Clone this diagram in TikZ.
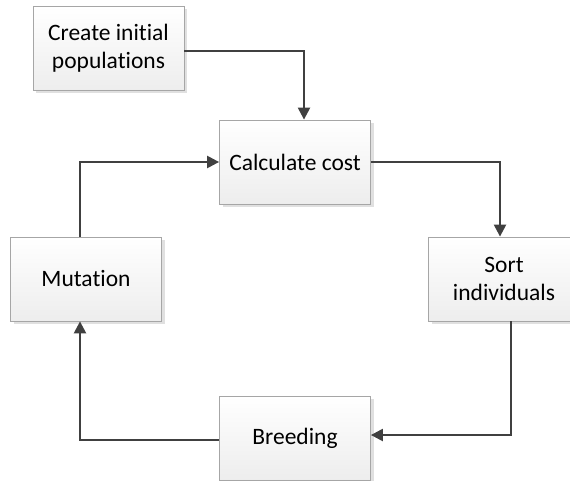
\documentclass[tikz,border=0pt]{standalone}
\usepackage{fontspec}
\setmainfont[RawFeature={-liga}]{Carlito}
\usetikzlibrary{arrows.meta,shadows}
\definecolor{edgegray}{HTML}{A6A6A6}
\definecolor{linegray}{HTML}{404040}
\begin{document}
\begin{tikzpicture}[x=1pt,y=-1pt,
  stepbox/.style={draw=edgegray,line width=0.8pt,top color=white,bottom color=black!7,
    minimum width=151pt,minimum height=84pt,inner sep=0pt,align=center,
    font=\fontsize{23.5}{28}\selectfont,text=black,
    drop shadow={shadow xshift=3pt,shadow yshift=-3pt,fill=black,opacity=0.12}},
  flow/.style={draw=linegray,line width=2.3pt,-{Triangle[length=12pt,width=12pt]}}]
\useasboundingbox (0,0) rectangle (570,481);
\node[stepbox] (create) at (108.5,48.5) {Create initial\\populations};
\node[stepbox] (calc)   at (295,162) {Calculate cost};
\node[stepbox] (sort)   at (504,279) {Sort\\individuals};
\node[stepbox] (breed)  at (295,438) {Breeding};
\node[stepbox] (mut)    at (86,279) {Mutation};
\draw[flow] ([yshift=-2.5pt]create.east) -| ([xshift=9pt]calc.north);
\draw[flow] (calc.east) -| ([xshift=-4pt]sort.north);
\draw[flow] ([xshift=7pt]sort.south) |- ([yshift=3pt]breed.east);
\draw[flow] ([yshift=-2pt]breed.west) -| ([xshift=-6pt]mut.south);
\draw[flow] ([xshift=-6pt]mut.north) |- (calc.west);
\end{tikzpicture}
\end{document}
